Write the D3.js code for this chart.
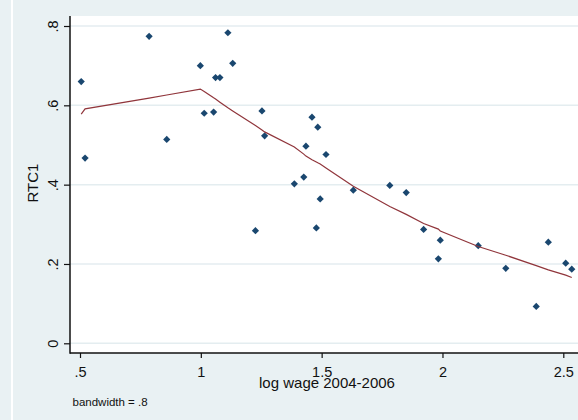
<!DOCTYPE html>
<html>
<head>
<meta charset="utf-8">
<script src="https://cdn.jsdelivr.net/npm/d3@7/dist/d3.min.js"></script>
<style>
  html, body { margin: 0; padding: 0; background: #e9f1f3; }
  svg { display: block; }
  text { font-family: "Liberation Sans", Arial, sans-serif; fill: #111; }
</style>
</head>
<body>
<svg id="chart" width="578" height="420"></svg>
<script>
// Occupations: log wage 2004-2006 vs. RTC1
const logWage = [0.505, 0.521, 0.786, 0.859, 0.998, 1.014, 1.053, 1.061, 1.079, 1.112,
                 1.132, 1.226, 1.253, 1.264, 1.387, 1.426, 1.435, 1.460, 1.478, 1.484,
                 1.494, 1.518, 1.631, 1.782, 1.850, 1.922, 1.983, 1.991, 2.148, 2.262,
                 2.388, 2.438, 2.510, 2.535];
const rtc1 = [0.660, 0.467, 0.774, 0.514, 0.700, 0.580, 0.583, 0.670, 0.670, 0.783,
              0.706, 0.284, 0.586, 0.523, 0.402, 0.419, 0.497, 0.570, 0.291, 0.545,
              0.364, 0.476, 0.386, 0.398, 0.380, 0.287, 0.213, 0.260, 0.246, 0.189,
              0.093, 0.255, 0.202, 0.187];
// Lowess smooth (bandwidth .8), evaluated at each log wage
const lowessRtc1 = [0.578, 0.591, 0.618, 0.626, 0.641, 0.635, 0.619, 0.616, 0.608, 0.594,
                    0.586, 0.549, 0.538, 0.533, 0.495, 0.477, 0.472, 0.463, 0.457, 0.455,
                    0.452, 0.442, 0.396, 0.345, 0.325, 0.302, 0.288, 0.283, 0.244, 0.222,
                    0.196, 0.185, 0.172, 0.166];

const xTicks = [0.5, 1, 1.5, 2, 2.5];
const xTickLabels = [".5", "1", "1.5", "2", "2.5"];
const yTicks = [0, 0.2, 0.4, 0.6, 0.8];
const yTickLabels = ["0", ".2", ".4", ".6", ".8"];

const xTitle = "log wage 2004-2006";
const yTitle = "RTC1";
const note = "bandwidth = .8";

const svg = d3.select("#chart");
const W = 578, H = 420;

// plot region bounds
const plotL = 70, plotT = 16, plotB = 353, plotR = 600;

const x = d3.scaleLinear().domain([0.5, 2.5]).range([80, 563.3]);
const y = d3.scaleLinear().domain([0, 0.8]).range([343.3, 26]);

// outer background and thin light strip near left edge
svg.append("rect").attr("width", W).attr("height", H).attr("fill", "#e9f1f3");
svg.append("rect").attr("x", 11).attr("y", 0).attr("width", 2).attr("height", H).attr("fill", "#ffffff");

// plot region
svg.append("rect")
  .attr("x", plotL).attr("y", plotT)
  .attr("width", plotR - plotL).attr("height", plotB - plotT)
  .attr("fill", "#ffffff");

// horizontal gridlines
svg.append("g").selectAll("line")
  .data(yTicks).join("line")
  .attr("x1", plotL).attr("x2", plotR)
  .attr("y1", d => y(d)).attr("y2", d => y(d))
  .attr("stroke", "#e4edf0").attr("stroke-width", 1.5);

// y axis
const yAxis = svg.append("g")
  .attr("transform", `translate(${plotL},0)`)
  .call(d3.axisLeft(y).tickValues(yTicks)
    .tickFormat((d, i) => yTickLabels[i]).tickSize(6).tickSizeOuter(0));
yAxis.select(".domain").remove();
yAxis.selectAll(".tick line").attr("stroke", "#111").attr("stroke-width", 1.2);
yAxis.selectAll(".tick text")
  .attr("transform", "rotate(-90)")
  .attr("x", 0).attr("y", -12.5).attr("dy", null)
  .attr("text-anchor", "middle")
  .style("font-size", "14.5px").style("font-family", null).attr("font-family", null)
  .attr("fill", "#111");

// x axis
const xAxis = svg.append("g")
  .attr("transform", `translate(0,${plotB})`)
  .call(d3.axisBottom(x).tickValues(xTicks)
    .tickFormat((d, i) => xTickLabels[i]).tickSize(5).tickSizeOuter(0));
xAxis.select(".domain").remove();
xAxis.selectAll(".tick line").attr("stroke", "#111").attr("stroke-width", 1.2);
xAxis.selectAll(".tick text")
  .attr("y", 24).attr("dy", null)
  .style("font-size", "14.5px").attr("font-family", null)
  .attr("fill", "#111");

// axis lines across the full plot region
svg.append("line")
  .attr("x1", plotL).attr("x2", plotL).attr("y1", plotT).attr("y2", plotB + 0.75)
  .attr("stroke", "#111").attr("stroke-width", 1.5);
svg.append("line")
  .attr("x1", plotL).attr("x2", plotR).attr("y1", plotB).attr("y2", plotB)
  .attr("stroke", "#111").attr("stroke-width", 1.5);

// scatter: diamonds
const diamond = d3.symbol().type(d3.symbolSquare).size(26);
svg.append("g").selectAll("path")
  .data(logWage.map((d, i) => [d, rtc1[i]])).join("path")
  .attr("d", diamond)
  .attr("transform", d => `translate(${x(d[0])},${y(d[1])}) rotate(45)`)
  .attr("fill", "#1a476f");

// lowess line
const line = d3.line().x(d => x(d[0])).y(d => y(d[1]));
svg.append("path")
  .datum(logWage.map((d, i) => [d, lowessRtc1[i]]))
  .attr("d", line)
  .attr("fill", "none")
  .attr("stroke", "#90353b")
  .attr("stroke-width", 1.2);

// titles
svg.append("text")
  .attr("x", 327).attr("y", 388)
  .attr("text-anchor", "middle")
  .style("font-size", "15px")
  .text(xTitle);

svg.append("text")
  .attr("transform", "translate(38,183) rotate(-90)")
  .attr("text-anchor", "middle")
  .style("font-size", "15px")
  .text(yTitle);

svg.append("text")
  .attr("x", 72.5).attr("y", 406)
  .style("font-size", "11.5px")
  .text(note);
</script>
</body>
</html>
